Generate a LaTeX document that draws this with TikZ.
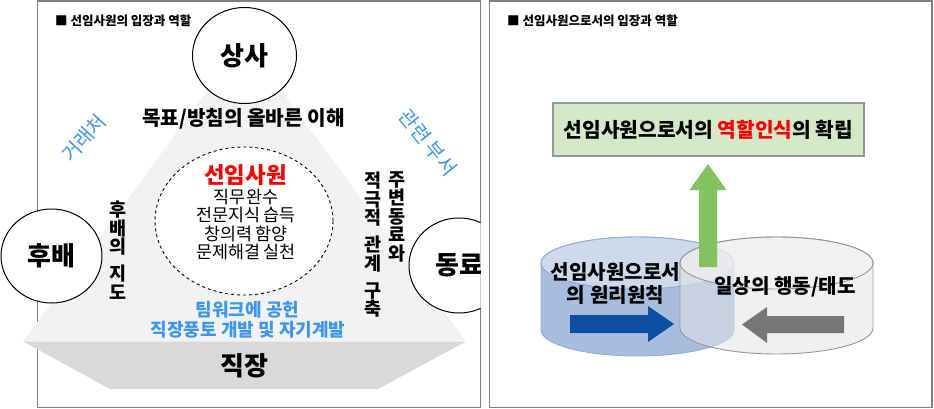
\documentclass[tikz,border=0pt]{standalone}
\usepackage{fontspec}
\setmainfont{Noto Sans CJK KR}
\usetikzlibrary{shapes.geometric}
\definecolor{framegray}{RGB}{128,128,128}
\definecolor{lightshape}{RGB}{242,242,242}
\definecolor{darkshape}{RGB}{217,217,217}
\definecolor{skyblue}{RGB}{59,151,243}
\definecolor{boxgreen}{RGB}{212,233,200}
\definecolor{boxline}{RGB}{150,150,150}
\definecolor{arrowgreen}{RGB}{130,195,95}
\definecolor{bluetop}{RGB}{207,217,236}
\definecolor{blueside}{RGB}{168,188,222}
\definecolor{blueline}{RGB}{142,170,219}
\definecolor{graytop}{RGB}{243,243,243}
\definecolor{grayside}{RGB}{228,228,228}
\definecolor{grayline}{RGB}{150,150,150}
\definecolor{darkblue}{RGB}{12,79,160}
\definecolor{arrowgray}{RGB}{118,118,118}
\tikzset{
  frame/.style={draw=framegray, line width=1.3pt},
  circ/.style={draw=black, line width=1pt, fill=white, ellipse, inner sep=0pt,
    font=\bfseries\fontsize{26}{29}\selectfont},
  titletext/.style={anchor=west, inner sep=0pt, font=\bfseries\fontsize{12.5}{14}\selectfont},
  boldtext/.style={inner sep=0pt, font=\bfseries\fontsize{20.2}{22}\selectfont},
  vtext/.style={inner sep=0pt, align=center, font=\bfseries\fontsize{18.5}{18.5}\selectfont},
  rottext/.style={inner sep=0pt, text=skyblue, font=\fontsize{20}{22}\selectfont},
  bluebold/.style={inner sep=0pt, text=skyblue, font=\bfseries\fontsize{18}{20}\selectfont},
  cyltext/.style={inner sep=0pt, align=center, font=\bfseries\fontsize{20.1}{23}\selectfont},
}
\begin{document}
\begin{tikzpicture}[x=1pt,y=-1pt]
\useasboundingbox (0,0) rectangle (934,409);
% frames
\draw[frame] (37.5,1) rectangle (480.5,407.5);
\draw[frame] (489.5,1) rectangle (932,407.5);
% titles
\node[titletext] (titleL) at (55,20.5) {■ 선임사원의 입장과 역할};
\node[titletext] (titleR) at (507,20.5) {■ 선임사원으로서의 입장과 역할};
% pyramid shapes
\fill[lightshape] (244.5,40) -- (466,341.5) -- (23,341.5) -- cycle;
\fill[darkshape] (23,341.5) -- (466,341.5) -- (378,389) -- (110,389) -- cycle;
% circles
\node[circ, minimum width=104pt, minimum height=96pt] (boss) at (244.5,55.5) {상사};
\node[circ, minimum width=101pt, minimum height=94pt] (junior) at (51.5,256) {후배};
\begin{scope}
  \clip (0,0) rectangle (480.5,409);
  \node[circ, minimum width=100pt, minimum height=95pt] (peer) at (459,265.5) {동료};
\end{scope}
% dashed core ellipse
\node[draw=black, dashed, line width=0.9pt, fill=white, ellipse, inner sep=0pt,
  minimum width=178pt, minimum height=148pt] (core) at (244,221) {};
\node[inner sep=0pt, text=red, font=\bfseries\fontsize{22.4}{24}\selectfont] (newbie) at (245.5,175) {선임사원};
\node[inner sep=0pt, align=center, font=\fontsize{17.4}{18.5}\selectfont] (duties) at (246,224.5)
  {직무완수\\전문지식 습득\\창의력 함양\\문제해결 실천};
% texts left panel
\node[boldtext] (goal) at (243.5,119) {목표/방침의 올바른 이해};
\node[vtext] (guide) at (118,250) {후\\배\\의\\[8.5pt]지\\도};
\node[vtext] (coopA) at (373,245) {적\\극\\적\\[8.5pt]관\\계\\[8.5pt]구\\축};
\node[vtext] (coopB) at (397,216.5) {주\\변\\동\\료\\와};
\node[rottext, rotate=48] (client) at (84,138) {거래처};
\node[rottext, rotate=-51] (dept) at (428,142.5) {관련 부서};
\node[bluebold] (team) at (247.5,310) {팀워크에 공헌};
\node[bluebold] (culture) at (248,330) {직장풍토 개발 및 자기계발};
\node[inner sep=0pt, font=\bfseries\fontsize{26}{29}\selectfont] (work) at (244.5,366) {직장};
% right panel: green box
\node[draw=boxline, line width=1.3pt, fill=boxgreen, minimum width=311pt, minimum height=53pt,
  inner sep=0pt, font=\bfseries\fontsize{20.3}{22}\selectfont] (goalbox) at (708.5,129.5)
  {선임사원으로서의 \textcolor{red}{역할인식}의 확립};
% cylinders
\path[fill=blueside, draw=blueline, line width=0.9pt]
  (541,263) -- (541,330) arc[start angle=180, end angle=360, x radius=96.5pt, y radius=26pt]
  -- (734,263) arc[start angle=0, end angle=180, x radius=96.5pt, y radius=26pt] -- cycle;
\path[fill=bluetop, draw=blueline, line width=0.9pt] (637.5,263) ellipse [x radius=96.5pt, y radius=26pt];
\path[fill=grayside, fill opacity=0.55, draw=grayline, line width=0.9pt]
  (680,263) -- (680,328) arc[start angle=180, end angle=360, x radius=96.5pt, y radius=26pt]
  -- (873,263) arc[start angle=0, end angle=180, x radius=96.5pt, y radius=26pt] -- cycle;
\path[fill=graytop, fill opacity=0.55, draw=grayline, line width=0.9pt] (776.5,263) ellipse [x radius=96.5pt, y radius=26pt];
% green arrow
\fill[arrowgreen] (699,267) -- (699,190) -- (689.5,190) -- (708,164) -- (726.5,190) -- (717,190) -- (717,267) -- cycle;
% cylinder texts
\node[cyltext] (principle) at (615.5,283.5) {선임사원으로서\\의 원리원칙};
\node[cyltext] (daily) at (785,287) {일상의 행동/태도};
% block arrows
\fill[darkblue] (570,315) -- (648,315) -- (648,306) -- (674,324) -- (648,342) -- (648,333) -- (570,333) -- cycle;
\fill[arrowgray] (844,316) -- (767,316) -- (767,307) -- (742,324.5) -- (767,343) -- (767,333) -- (844,333) -- cycle;
\end{tikzpicture}
\end{document}
